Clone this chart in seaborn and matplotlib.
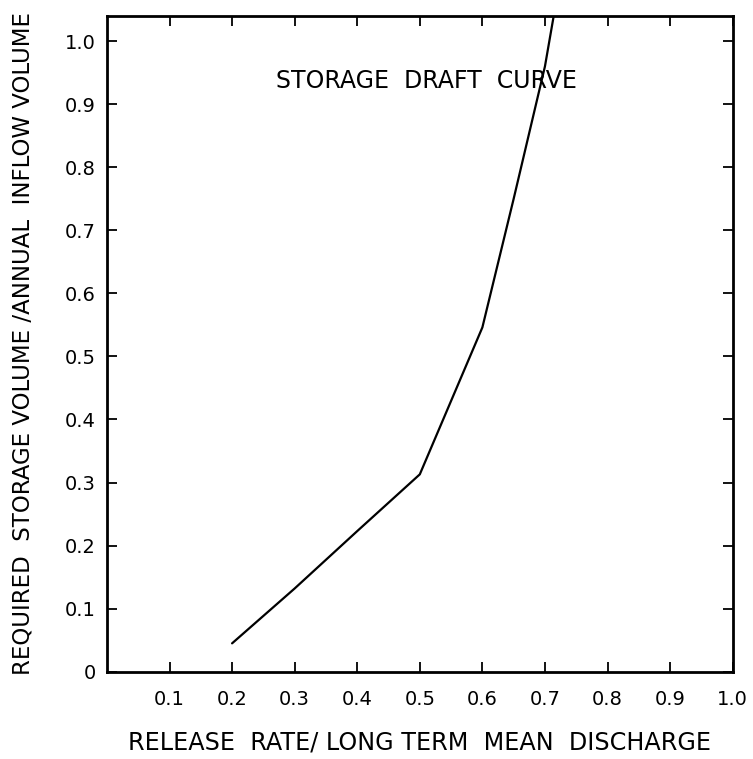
import numpy as np
import pandas as pd
import matplotlib
matplotlib.use("Agg")
import matplotlib.pyplot as plt
import seaborn as sns

# release rate / long term mean discharge vs required storage / annual inflow
release = [0.2, 0.3, 0.4, 0.5, 0.6, 0.65, 0.7, 0.714]
storage = [0.045, 0.132, 0.223, 0.313, 0.546, 0.75, 0.96, 1.04]

xticks = [0.1, 0.2, 0.3, 0.4, 0.5, 0.6, 0.7, 0.8, 0.9, 1.0]
xticklabels = ['0.1', '0.2', '0.3', '0.4', '0.5', '0.6', '0.7', '0.8', '0.9', '1.0']
yticks = [0, 0.1, 0.2, 0.3, 0.4, 0.5, 0.6, 0.7, 0.8, 0.9, 1.0]
yticklabels = ['0', '0.1', '0.2', '0.3', '0.4', '0.5', '0.6', '0.7', '0.8', '0.9', '1.0']

df = pd.DataFrame({'release': release, 'storage': storage})

sns.set_style('ticks')
plt.rcParams['font.family'] = ['DejaVu Sans']
plt.rcParams['text.color'] = 'black'
plt.rcParams['axes.labelcolor'] = 'black'

fig = plt.figure(figsize=(7.53, 7.59), dpi=100)
ax = fig.add_axes([0.142, 0.115, 0.831, 0.864])

sns.lineplot(x='release', y='storage', data=df, sort=False, color='black',
             linewidth=1.6, ax=ax)

ax.set_xlim(0, 1.0)
ax.set_ylim(0, 1.04)
ax.set_xticks(xticks)
ax.set_xticklabels(xticklabels, fontsize=14)
ax.set_yticks(yticks)
ax.set_yticklabels(yticklabels, fontsize=14)
ax.tick_params(direction='in', top=True, right=True, length=7, width=1.3,
               colors='black')
ax.tick_params(axis='x', pad=13)
ax.tick_params(axis='y', pad=8)
for s in ax.spines.values():
    s.set_linewidth(2)
    s.set_color('black')

ax.set_xlabel('RELEASE  RATE/ LONG TERM  MEAN  DISCHARGE', fontsize=17.2,
              labelpad=16)
ax.set_ylabel('REQUIRED  STORAGE VOLUME /ANNUAL  INFLOW VOLUME', fontsize=16.5,
              labelpad=22)
ax.text(0.27, 0.937, 'STORAGE  DRAFT  CURVE', fontsize=17, va='center')

fig.savefig('out.png', dpi=100)
